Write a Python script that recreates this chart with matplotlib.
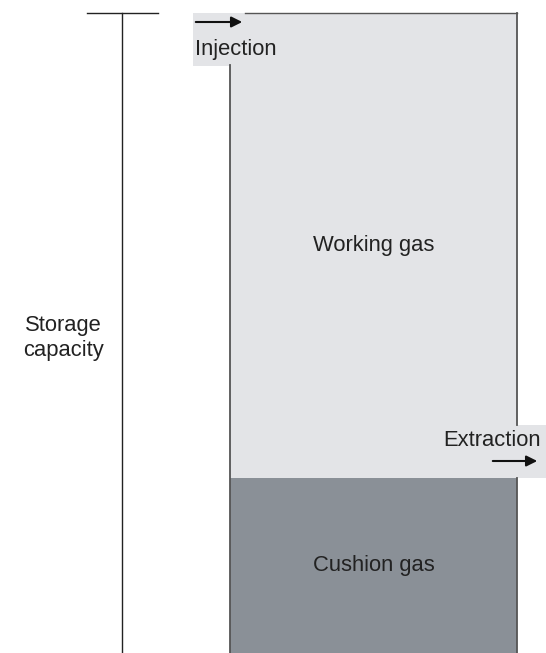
import matplotlib.pyplot as plt

plt.rcParams['font.family'] = ['Liberation Sans', 'DejaVu Sans']

# storage layers (arbitrary volume units, bottom to top)
layers = ['Cushion gas', 'Working gas']
volumes = [175, 465]
colors = ['#8a9097', '#e3e4e7']
total = sum(volumes)

fig = plt.figure(figsize=(5.46, 6.53), dpi=100)
ax = fig.add_axes([0, 0, 1, 1])
ax.set_xlim(0, 546)
ax.set_ylim(0, 653)
ax.axis('off')

x0, x1 = 230, 517
xc = (x0 + x1) / 2
bottom = 0
for name, v, c in zip(layers, volumes, colors):
    ax.bar(xc, v, width=x1 - x0, bottom=bottom, color=c, edgecolor='none')
    ax.text(xc, bottom + v * 0.5, name,
            ha='center', va='center', fontsize=15.8, color='#222222')
    bottom += v

edge = '#555555'
# bar outline (left / right / top)
ax.plot([x0, x0], [0, total - 52], color=edge, lw=1.3)
ax.plot([x1, x1], [0, volumes[0]], color=edge, lw=1.3)
ax.plot([x1, x1], [volumes[0] + 53, total], color=edge, lw=1.3)
ax.plot([245, x1], [total, total], color=edge, lw=1.0)

# storage capacity scale
ax.plot([122, 122], [0, total], color='#222222', lw=1.0)
ax.plot([87, 158], [total, total], color='#222222', lw=1.0)
ax.text(63, 315, 'Storage\ncapacity', ha='center', va='center',
        fontsize=15.8, color='#222222', linespacing=1.25)

# injection label
ax.add_patch(plt.Rectangle((193, total - 53), 52, 53, color='#e3e4e7', lw=0))
ax.annotate('', xy=(245, total - 9), xytext=(193, total - 9),
            arrowprops=dict(arrowstyle='-|>', color='#111111', lw=1.5,
                            mutation_scale=16))
ax.text(195, total - 37, 'Injection', ha='left', va='center',
        fontsize=15.8, color='#222222')

# extraction label
ax.add_patch(plt.Rectangle((443, volumes[0]), 103, 53, color='#e3e4e7', lw=0))
ax.text(443, volumes[0] + 38, 'Extraction', ha='left', va='center',
        fontsize=15.8, color='#222222')
ax.annotate('', xy=(540, volumes[0] + 17), xytext=(490, volumes[0] + 17),
            arrowprops=dict(arrowstyle='-|>', color='#111111', lw=1.5,
                            mutation_scale=16))

fig.savefig('out.png', dpi=100)
